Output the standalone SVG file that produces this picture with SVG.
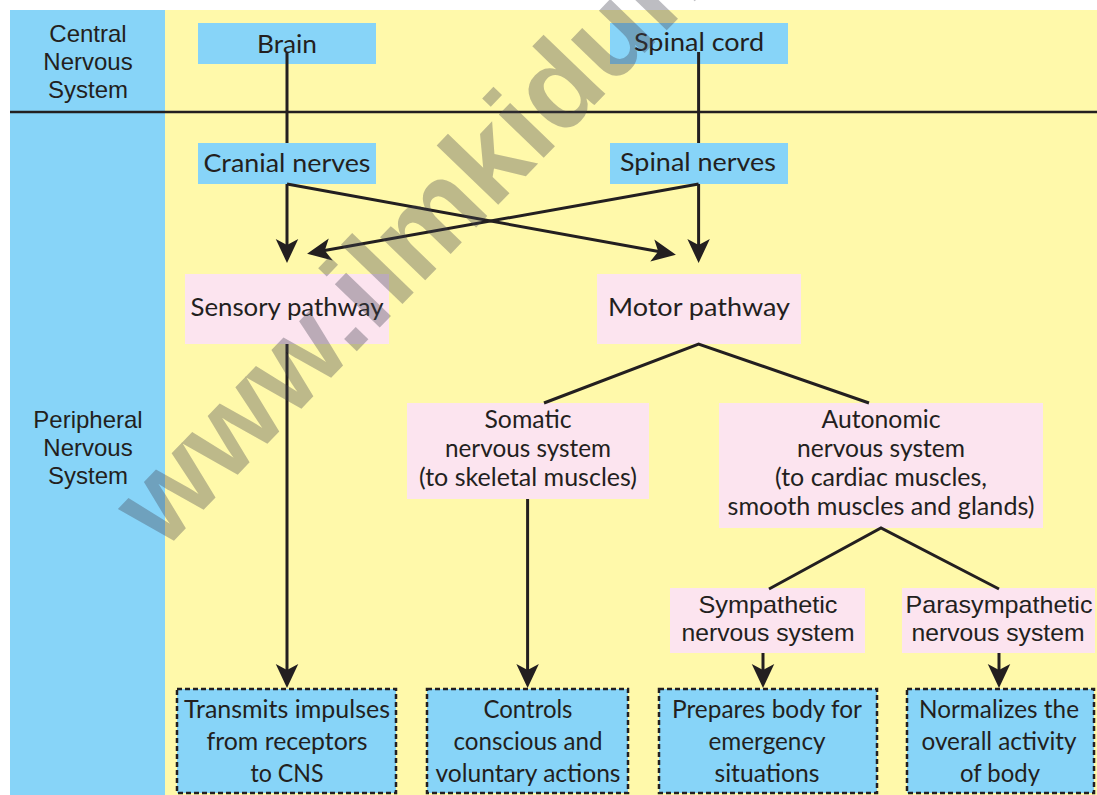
<svg xmlns="http://www.w3.org/2000/svg" width="1097" height="795" viewBox="0 0 1097 795">
<style>
.blue{fill:#87d4f8}
.pink{fill:#fce4ef}
.dash{fill:#87d4f8;stroke:#231f20;stroke-width:2.5;stroke-dasharray:5 3}
.t{font-family:Lato,"Open Sans",sans-serif;font-size:25px;fill:#231f20;text-anchor:middle}
.a{font-family:"Liberation Sans",Arial,sans-serif;font-size:24px;fill:#231f20;text-anchor:middle}
.c{fill:none;stroke:#231f20;stroke-width:3}
</style>
<defs>
<marker id="ah" markerUnits="userSpaceOnUse" markerWidth="30" markerHeight="30" viewBox="-10 -10 20 20" refX="0" refY="0" orient="auto">
<path d="M8,0 L-8,-7.5 L-4,0 L-8,7.5 Z" fill="#231f20"/>
</marker>
</defs>
<rect x="0" y="0" width="1097" height="795" fill="#ffffff"/>
<rect x="10" y="10" width="155" height="785" class="blue"/>
<rect x="165" y="10" width="932" height="785" fill="#fff9aa"/>
<line x1="10" y1="112" x2="1097" y2="112" stroke="#231f20" stroke-width="2.5"/>

<g id="cns-label">
<text class="a" x="88" y="42">Central</text>
<text class="a" x="88" y="70">Nervous</text>
<text class="a" x="88" y="98">System</text>
</g>
<g id="pns-label">
<text class="a" x="88" y="428">Peripheral</text>
<text class="a" x="88" y="456">Nervous</text>
<text class="a" x="88" y="484">System</text>
</g>

<g id="brain"><rect x="198" y="23" width="178" height="41" class="blue"/><text class="t" x="287" y="53" textLength="60" lengthAdjust="spacingAndGlyphs">Brain</text></g>
<g id="spinal-cord"><rect x="610" y="23" width="178" height="41" class="blue"/><text class="t" x="699" y="51" textLength="130" lengthAdjust="spacingAndGlyphs">Spinal cord</text></g>
<g id="cranial-nerves"><rect x="198" y="143" width="178" height="41" class="blue"/><text class="t" x="287" y="172" textLength="167" lengthAdjust="spacingAndGlyphs">Cranial nerves</text></g>
<g id="spinal-nerves"><rect x="610" y="143" width="178" height="41" class="blue"/><text class="t" x="698" y="171" textLength="156" lengthAdjust="spacingAndGlyphs">Spinal nerves</text></g>
<g id="sensory"><rect x="185" y="274" width="204" height="70" class="pink"/><text class="t" x="287" y="316" textLength="193" lengthAdjust="spacingAndGlyphs">Sensory pathway</text></g>
<g id="motor"><rect x="597" y="274" width="204" height="70" class="pink"/><text class="t" x="699" y="316" textLength="182" lengthAdjust="spacingAndGlyphs">Motor pathway</text></g>
<g id="somatic"><rect x="407" y="403" width="242" height="96" class="pink"/>
<text class="t" x="528" y="428" textLength="87" lengthAdjust="spacingAndGlyphs">Somatic</text>
<text class="t" x="528" y="457" textLength="166" lengthAdjust="spacingAndGlyphs">nervous system</text>
<text class="t" x="528" y="486" textLength="218" lengthAdjust="spacingAndGlyphs">(to skeletal muscles)</text></g>
<g id="autonomic"><rect x="719" y="403" width="324" height="125" class="pink"/>
<text class="t" x="881" y="428" textLength="119" lengthAdjust="spacingAndGlyphs">Autonomic</text>
<text class="t" x="881" y="457" textLength="168" lengthAdjust="spacingAndGlyphs">nervous system</text>
<text class="t" x="881" y="486" textLength="212" lengthAdjust="spacingAndGlyphs">(to cardiac muscles,</text>
<text class="t" x="881" y="515" textLength="307" lengthAdjust="spacingAndGlyphs">smooth muscles and glands)</text></g>
<g id="sympathetic"><rect x="670" y="588" width="195" height="65" class="pink"/>
<text class="a" x="768" y="613" textLength="139" lengthAdjust="spacingAndGlyphs">Sympathetic</text>
<text class="a" x="768" y="641" textLength="173" lengthAdjust="spacingAndGlyphs">nervous system</text></g>
<g id="parasympathetic"><rect x="902" y="588" width="193" height="65" class="pink"/>
<text class="a" x="999" y="613" textLength="187" lengthAdjust="spacingAndGlyphs">Parasympathetic</text>
<text class="a" x="998" y="641" textLength="173" lengthAdjust="spacingAndGlyphs">nervous system</text></g>

<g id="out-sensory"><rect x="177" y="689" width="219" height="104" class="dash"/>
<text class="t" x="287" y="718" textLength="206" lengthAdjust="spacingAndGlyphs">Transmits impulses</text>
<text class="t" x="287" y="750" textLength="161" lengthAdjust="spacingAndGlyphs">from receptors</text>
<text class="t" x="287" y="782" textLength="73" lengthAdjust="spacingAndGlyphs">to CNS</text></g>
<g id="out-somatic"><rect x="427" y="689" width="201" height="104" class="dash"/>
<text class="t" x="528" y="718" textLength="89" lengthAdjust="spacingAndGlyphs">Controls</text>
<text class="t" x="528" y="750" textLength="149" lengthAdjust="spacingAndGlyphs">conscious and</text>
<text class="t" x="528" y="782" textLength="185" lengthAdjust="spacingAndGlyphs">voluntary actions</text></g>
<g id="out-sympathetic"><rect x="659" y="689" width="218" height="104" class="dash"/>
<text class="t" x="767" y="718" textLength="190" lengthAdjust="spacingAndGlyphs">Prepares body for</text>
<text class="t" x="767" y="750" textLength="117" lengthAdjust="spacingAndGlyphs">emergency</text>
<text class="t" x="767" y="782" textLength="105" lengthAdjust="spacingAndGlyphs">situations</text></g>
<g id="out-parasympathetic"><rect x="907" y="689" width="187" height="104" class="dash"/>
<text class="t" x="999" y="718" textLength="160" lengthAdjust="spacingAndGlyphs">Normalizes the</text>
<text class="t" x="999" y="750" textLength="155" lengthAdjust="spacingAndGlyphs">overall activity</text>
<text class="t" x="1000" y="782" textLength="80" lengthAdjust="spacingAndGlyphs">of body</text></g>

<g id="connectors">
<line class="c" x1="287" y1="52" x2="287" y2="143"/>
<line class="c" x1="698.6" y1="52" x2="698.6" y2="143"/>
<line class="c" x1="287" y1="184" x2="287" y2="251" marker-end="url(#ah)"/>
<line class="c" x1="287" y1="184" x2="664.1" y2="252.6" marker-end="url(#ah)"/>
<line class="c" x1="698.6" y1="184" x2="698.6" y2="251" marker-end="url(#ah)"/>
<line class="c" x1="698.6" y1="184" x2="318.9" y2="251.6" marker-end="url(#ah)"/>
<line class="c" x1="287" y1="344" x2="287" y2="676" marker-end="url(#ah)"/>
<polyline class="c" points="544,403 698.6,344 869,403"/>
<line class="c" x1="527.6" y1="499" x2="527.6" y2="676" marker-end="url(#ah)"/>
<polyline class="c" points="769,589 881,528 999,589"/>
<line class="c" x1="763" y1="653" x2="763" y2="676" marker-end="url(#ah)"/>
<line class="c" x1="999" y1="653" x2="999" y2="676" marker-end="url(#ah)"/>
</g>

<text id="watermark" transform="translate(163,552) rotate(-46)" font-family="'Liberation Sans',Arial,sans-serif" font-weight="bold" font-size="118" fill="#42424f" fill-opacity="0.35">www.ilmkidunya.com</text>
</svg>
